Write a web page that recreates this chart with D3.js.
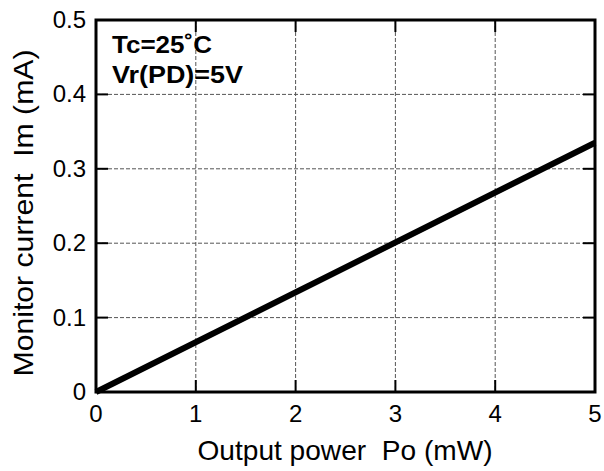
<!DOCTYPE html>
<html><head><meta charset="utf-8">
<script src="https://cdn.jsdelivr.net/npm/d3@7"></script>
<style>body{margin:0;background:#fff}svg{display:block}text{font-family:"Liberation Sans",Arial,sans-serif}</style>
</head><body>
<svg id="c" width="604" height="471"></svg>
<script>
const power = [0, 5];            // mW
const current = [0, 0.335];      // mA
const xTicks = [0, 1, 2, 3, 4, 5];
const yTicks = [0, 0.1, 0.2, 0.3, 0.4, 0.5];
const yTickLabels = ["0", "0.1", "0.2", "0.3", "0.4", "0.5"];
const notes = ["Tc=25\u02DAC", "Vr(PD)=5V"];

const svg = d3.select("#c");
const m = {l: 96, r: 595, t: 20, b: 392};
const x = d3.scaleLinear().domain([0, 5]).range([m.l, m.r]);
const y = d3.scaleLinear().domain([0, 0.5]).range([m.b, m.t]);

// grid
const g = svg.append("g");
g.selectAll(".gx").data(xTicks.slice(1, -1)).join("line")
  .attr("x1", d => x(d)).attr("x2", d => x(d)).attr("y1", m.t).attr("y2", m.b)
  .attr("stroke", "#555").attr("stroke-width", 1).attr("stroke-dasharray", "4,2");
g.selectAll(".gy").data(yTicks.slice(1, -1)).join("line")
  .attr("y1", d => y(d)).attr("y2", d => y(d)).attr("x1", m.l).attr("x2", m.r)
  .attr("stroke", "#555").attr("stroke-width", 1).attr("stroke-dasharray", "4,2");

// inward ticks on all sides
const tl = 12;
const tk = svg.append("g").attr("stroke", "#000").attr("stroke-width", 2);
xTicks.slice(1, -1).forEach(d => {
  tk.append("line").attr("x1", x(d)).attr("x2", x(d)).attr("y1", m.b).attr("y2", m.b - tl);
  tk.append("line").attr("x1", x(d)).attr("x2", x(d)).attr("y1", m.t).attr("y2", m.t + tl);
});
yTicks.slice(1, -1).forEach(d => {
  tk.append("line").attr("y1", y(d)).attr("y2", y(d)).attr("x1", m.l).attr("x2", m.l + tl);
  tk.append("line").attr("y1", y(d)).attr("y2", y(d)).attr("x1", m.r).attr("x2", m.r - tl);
});

// data line
const line = d3.line().x((d, i) => x(power[i])).y(d => y(d));
svg.append("path").datum(current).attr("d", line)
  .attr("fill", "none").attr("stroke", "#000").attr("stroke-width", 6);

// frame
svg.append("rect").attr("x", m.l).attr("y", m.t).attr("width", m.r - m.l).attr("height", m.b - m.t)
  .attr("fill", "none").attr("stroke", "#000").attr("stroke-width", 3);

// tick labels
svg.selectAll(".xl").data(xTicks).join("text")
  .attr("x", d => x(d)).attr("y", 422).attr("text-anchor", "middle")
  .attr("font-size", 24).text(d => d);
svg.selectAll(".yl").data(yTicks).join("text")
  .attr("x", 86).attr("y", d => y(d) + 8).attr("text-anchor", "end")
  .attr("font-size", 24).text((d, i) => yTickLabels[i]);

// titles
svg.append("text").attr("x", 345).attr("y", 460).attr("text-anchor", "middle")
  .attr("font-size", 28).attr("textLength", 295).attr("lengthAdjust", "spacingAndGlyphs")
  .text("Output power\u00A0\u00A0Po (mW)");
svg.append("text").attr("transform", "translate(33,213) rotate(-90)").attr("text-anchor", "middle")
  .attr("font-size", 28).attr("textLength", 327).attr("lengthAdjust", "spacingAndGlyphs")
  .text("Monitor current\u00A0\u00A0Im (mA)");

// annotation
const nw = [100, 131];
svg.selectAll(".nt").data(notes).join("text")
  .attr("x", 112).attr("y", (d, i) => 53 + i * 30)
  .attr("font-size", 23).attr("font-weight", "bold")
  .attr("textLength", (d, i) => nw[i]).attr("lengthAdjust", "spacingAndGlyphs")
  .text(d => d);
</script>
</body></html>
